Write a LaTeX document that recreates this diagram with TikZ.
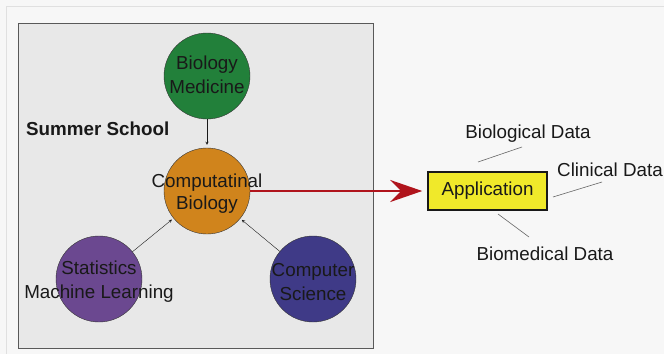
\documentclass[tikz,border=0pt]{standalone}
\usepackage{fontspec}
\setmainfont{Liberation Sans}
\usetikzlibrary{arrows.meta}
\definecolor{biogreen}{HTML}{22803A}
\definecolor{comporange}{HTML}{D0841C}
\definecolor{statpurple}{HTML}{6B4890}
\definecolor{csblue}{HTML}{3F3A87}
\definecolor{appyellow}{HTML}{F0E92A}
\definecolor{arrowred}{HTML}{B0141C}
\tikzset{
  topic/.style={circle, draw=black!80, minimum size=86pt, inner sep=0pt},
  topiclabel/.style={align=center, font=\fontsize{18.8}{24}\selectfont, text=black!90},
  datatext/.style={font=\fontsize{18.8}{22}\selectfont, text=black!90},
  dataline/.style={draw=black!60, line width=0.6pt}
}
\begin{document}
\begin{tikzpicture}[x=1pt, y=-1pt, >=stealth]
\useasboundingbox (0,0) rectangle (664,354);
\fill[black!3] (0,0) rectangle (664,354);
\draw[black!12] (6,354)--(6,6)--(664,6);
% summer school box
\draw[fill=black!9, draw=black!65, line width=0.8pt] (18,23) rectangle (373,348);
\node[font=\fontsize{18.8}{22}\selectfont\bfseries, text=black!90, anchor=west, inner sep=0pt] (school) at (26,129) {Summer School};
\node[topic, fill=biogreen, label={[topiclabel, yshift=1pt]center:Biology\\Medicine}] (bio) at (207,76) {};
\node[topic, fill=comporange, label={[topiclabel, font=\fontsize{18.8}{22}\selectfont, yshift=-3pt]center:Computatinal\\Biology}] (comp) at (207,191) {};
\node[topic, fill=statpurple, label={[topiclabel, yshift=-3pt]center:Statistics\\Machine Learning}] (stat) at (99,279) {};
\node[topic, fill=csblue, label={[topiclabel, yshift=-3pt]center:Computer\\Science}] (cs) at (313,279) {};
\draw[->, black!90, shorten >=3pt] (bio) -- (comp);
\draw[->, black!90, shorten >=2pt] (stat) -- (comp);
\draw[->, black!90, shorten >=2pt] (cs) -- (comp);
% application
\node[draw=black!90, line width=1.5pt, fill=appyellow, minimum width=119pt, minimum height=38pt, datatext] (app) at (487.5,191) {Application};
\draw[-{Stealth[length=32pt, width=22pt, inset=11pt]}, arrowred, line width=2.8pt, shorten >=5pt] (comp) -- (app);
\node[datatext] (biodata) at (528,133.5) {Biological Data};
\node[datatext] (clindata) at (610,169.5) {Clinical Data};
\node[datatext] (biomed) at (545,253.5) {Biomedical Data};
\coordinate (a1) at (478,162); \coordinate (b1) at (522,147);
\coordinate (a2) at (553,197); \coordinate (b2) at (602,182);
\coordinate (a3) at (498,214); \coordinate (b3) at (529,237);
\draw[dataline] (a1) -- (b1);
\draw[dataline] (a2) -- (b2);
\draw[dataline] (a3) -- (b3);
\end{tikzpicture}
\end{document}
